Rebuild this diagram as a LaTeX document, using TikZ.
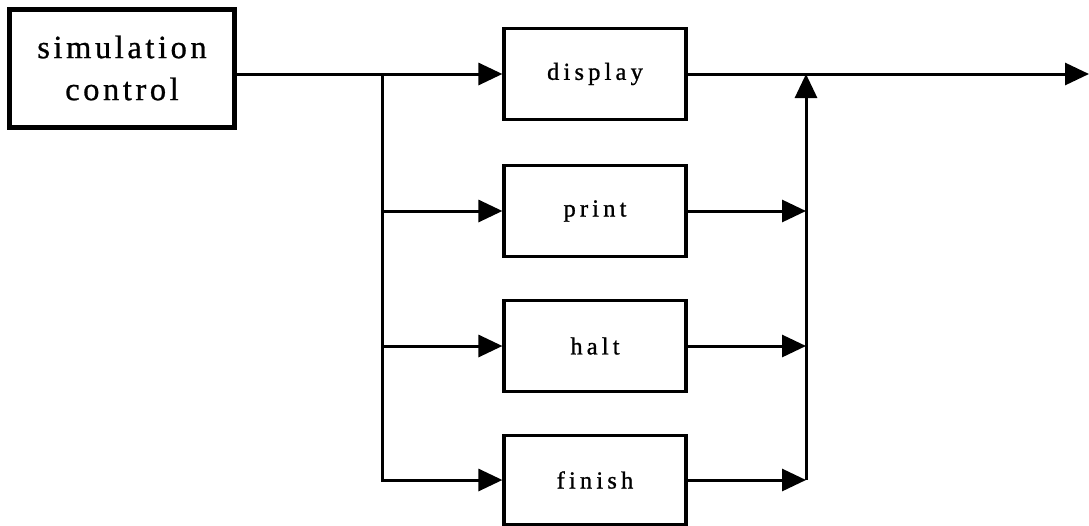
\documentclass[tikz,border=0pt]{standalone}
\usepackage{fontspec}
\setmainfont{Liberation Serif}
\newfontfamily\smallspaced[LetterSpace=17,FakeBold=1]{Liberation Serif}
\newfontfamily\bigspaced[LetterSpace=11,FakeBold=0.8]{Liberation Serif}
\usetikzlibrary{arrows.meta}
\begin{document}
\begin{tikzpicture}[x=1pt,y=-1pt,
  stagebox/.style={draw,line width=3.2pt,minimum width=182pt,minimum height=91pt,
    inner sep=0pt,font=\smallspaced\fontsize{24.5}{28}\selectfont},
  ctrlbox/.style={draw,line width=5pt,minimum width=225pt,minimum height=118pt,
    inner sep=0pt,align=center,font=\bigspaced\fontsize{32.5}{42}\selectfont},
  conn/.style={line width=3pt},
  arr/.style={conn,-{Triangle[length=24pt,width=22pt]}}]
\useasboundingbox (0,0) rectangle (1089,525);
\node[ctrlbox] (sim) at (122,68) {simulation\\control};
\node[stagebox] (disp) at (595,74) {display};
\node[stagebox] (prt) at (595,211) {print};
\node[stagebox] (hlt) at (595,346) {halt};
\node[stagebox,minimum height=89pt] (fin) at (595,480) {finish};
\coordinate (br) at (382,74);
\coordinate (jn) at (806,74);
\coordinate (out) at (1089,74);
\draw[arr] (sim.east |- disp.west) -- (disp.west);
\draw[arr] (br) |- (fin.west);
\draw[arr] (br |- prt.west) -- (prt.west);
\draw[arr] (br |- hlt.west) -- (hlt.west);
\draw[arr] (prt.east) -- (prt.east -| jn);
\draw[arr] (hlt.east) -- (hlt.east -| jn);
\draw[arr] (fin.east) -- (fin.east -| jn);
\draw[arr] (fin.east -| jn) -- (jn);
\draw[arr] (disp.east) -- (out);
\end{tikzpicture}
\end{document}
